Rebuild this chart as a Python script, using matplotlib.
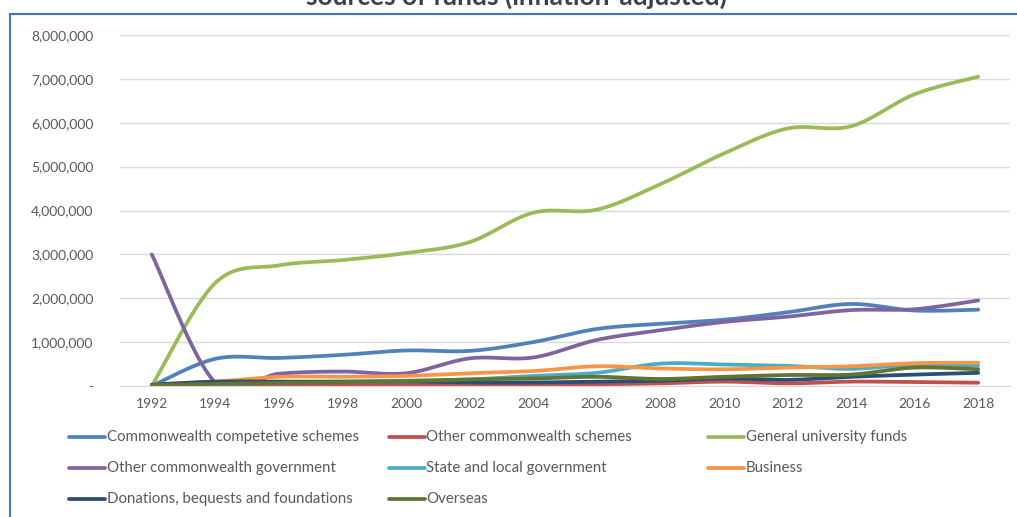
import numpy as np
import matplotlib
matplotlib.use("Agg")
import matplotlib.pyplot as plt
from matplotlib.lines import Line2D
from matplotlib.patches import Rectangle

plt.rcParams['font.family'] = ['Lato', 'DejaVu Sans']

years = ["1992", "1994", "1996", "1998", "2000", "2002", "2004",
         "2006", "2008", "2010", "2012", "2014", "2016", "2018"]

commonwealth_competitive = [0, 620000, 640000, 710000, 810000, 800000, 1000000,
                            1300000, 1420000, 1510000, 1680000, 1870000, 1720000, 1740000]
other_cw_schemes = [10000, 10000, 10000, 10000, 20000, 30000, 20000,
                    40000, 60000, 100000, 60000, 100000, 90000, 75000]
general_university = [0, 2350000, 2750000, 2870000, 3030000, 3280000, 3950000,
                      4020000, 4600000, 5300000, 5870000, 5920000, 6650000, 7050000]
other_cw_government = [3000000, 80000, 280000, 330000, 290000, 630000, 650000,
                       1050000, 1270000, 1460000, 1580000, 1730000, 1750000, 1950000]
state_local = [20000, 50000, 80000, 100000, 120000, 150000, 230000,
               300000, 510000, 490000, 460000, 390000, 490000, 460000]
business = [30000, 100000, 210000, 210000, 230000, 290000, 340000,
            450000, 400000, 380000, 420000, 450000, 520000, 530000]
donations = [30000, 100000, 100000, 100000, 100000, 80000, 80000,
             100000, 120000, 170000, 140000, 210000, 260000, 300000]
overseas = [20000, 50000, 70000, 90000, 110000, 150000, 170000,
            210000, 160000, 210000, 250000, 260000, 420000, 380000]

series_names = ["Commonwealth competetive schemes", "Other commonwealth schemes",
                "General university funds", "Other commonwealth government",
                "State and local government", "Business",
                "Donations, bequests and foundations", "Overseas"]
series_values = [commonwealth_competitive, other_cw_schemes, general_university,
                 other_cw_government, state_local, business, donations, overseas]
colors = ["#4F81BD", "#C0504D", "#9BBB59", "#8064A2",
          "#4BACC6", "#F79646", "#2C4D75", "#5F7530"]

y_ticks = [0, 1000000, 2000000, 3000000, 4000000, 5000000, 6000000, 7000000, 8000000]


def smooth(xs, ys, n=30):
    # Excel-style smoothing: cubic Bezier with Catmull-Rom control points
    xs = np.asarray(xs, float)
    ys = np.asarray(ys, float)
    P = np.column_stack([xs, ys])
    out = []
    t = np.linspace(0, 1, n)
    for i in range(len(P) - 1):
        p0 = P[i - 1] if i > 0 else P[i]
        p1 = P[i]
        p2 = P[i + 1]
        p3 = P[i + 2] if i + 2 < len(P) else P[i + 1]
        c1 = p1 + (p2 - p0) / 6.0
        c2 = p2 - (p3 - p1) / 6.0
        seg = ((1 - t)[:, None] ** 3 * p1 + 3 * ((1 - t) ** 2 * t)[:, None] * c1
               + 3 * ((1 - t) * t ** 2)[:, None] * c2 + (t ** 3)[:, None] * p2)
        out.append(seg if i == 0 else seg[1:])
    S = np.vstack(out)
    return S[:, 0], S[:, 1]


W, H = 1017, 517
fig = plt.figure(figsize=(W / 100, H / 100), dpi=100)
ax = fig.add_axes([120 / W, 1 - 386 / H, (1010 - 120) / W, (386 - 35) / H])

x_idx = np.arange(len(years))
handles = []
for name, vals, c in zip(series_names, series_values, colors):
    sx, sy = smooth(x_idx, vals)
    ln, = ax.plot(sx, sy, color=c, lw=2.7, solid_capstyle='round', label=name)
    handles.append(ln)

ax.set_xlim(-0.5, 13.5)
ax.set_ylim(0, 8000000)
ax.set_yticks(y_ticks)
ax.set_yticklabels([f"{v:,}" if v else "-" for v in y_ticks])
ax.set_xticks(x_idx)
ax.set_xticklabels(years)
ax.grid(axis='y', color='#D9D9D9', lw=1)
ax.set_axisbelow(True)
for s in ax.spines.values():
    s.set_visible(False)
ax.spines['bottom'].set_visible(True)
ax.spines['bottom'].set_color('#D9D9D9')
ax.tick_params(length=0, colors='#595959', labelsize=10)
ax.tick_params(axis='y', pad=19)
ax.tick_params(axis='x', pad=9)

# legend laid out in an Excel-like uniform grid
for i, (ln, name) in enumerate(zip(handles, series_names)):
    r, cidx = divmod(i, 3)
    x0 = 69 + cidx * 319.5
    y0 = 437 + r * 31
    fig.add_artist(Line2D([x0 / W, (x0 + 36) / W], [1 - y0 / H, 1 - y0 / H],
                          color=ln.get_color(), lw=2.7, solid_capstyle='round'))
    fig.text((x0 + 38) / W, 1 - y0 / H, name, color='#595959', fontsize=10.8,
             va='center', ha='left')

# chart frame
fig.add_artist(Rectangle((10 / W, -0.1), 1.2, 1 - 14 / H + 0.1, transform=fig.transFigure,
                         fill=False, edgecolor='#4472C4', lw=1.5))
fig.text(517 / W, 1 - 5 / H, "sources of funds (inflation-adjusted)", ha='center',
         va='baseline', fontsize=19, fontweight='bold', color='#404040')

fig.savefig("out.png", dpi=100)
